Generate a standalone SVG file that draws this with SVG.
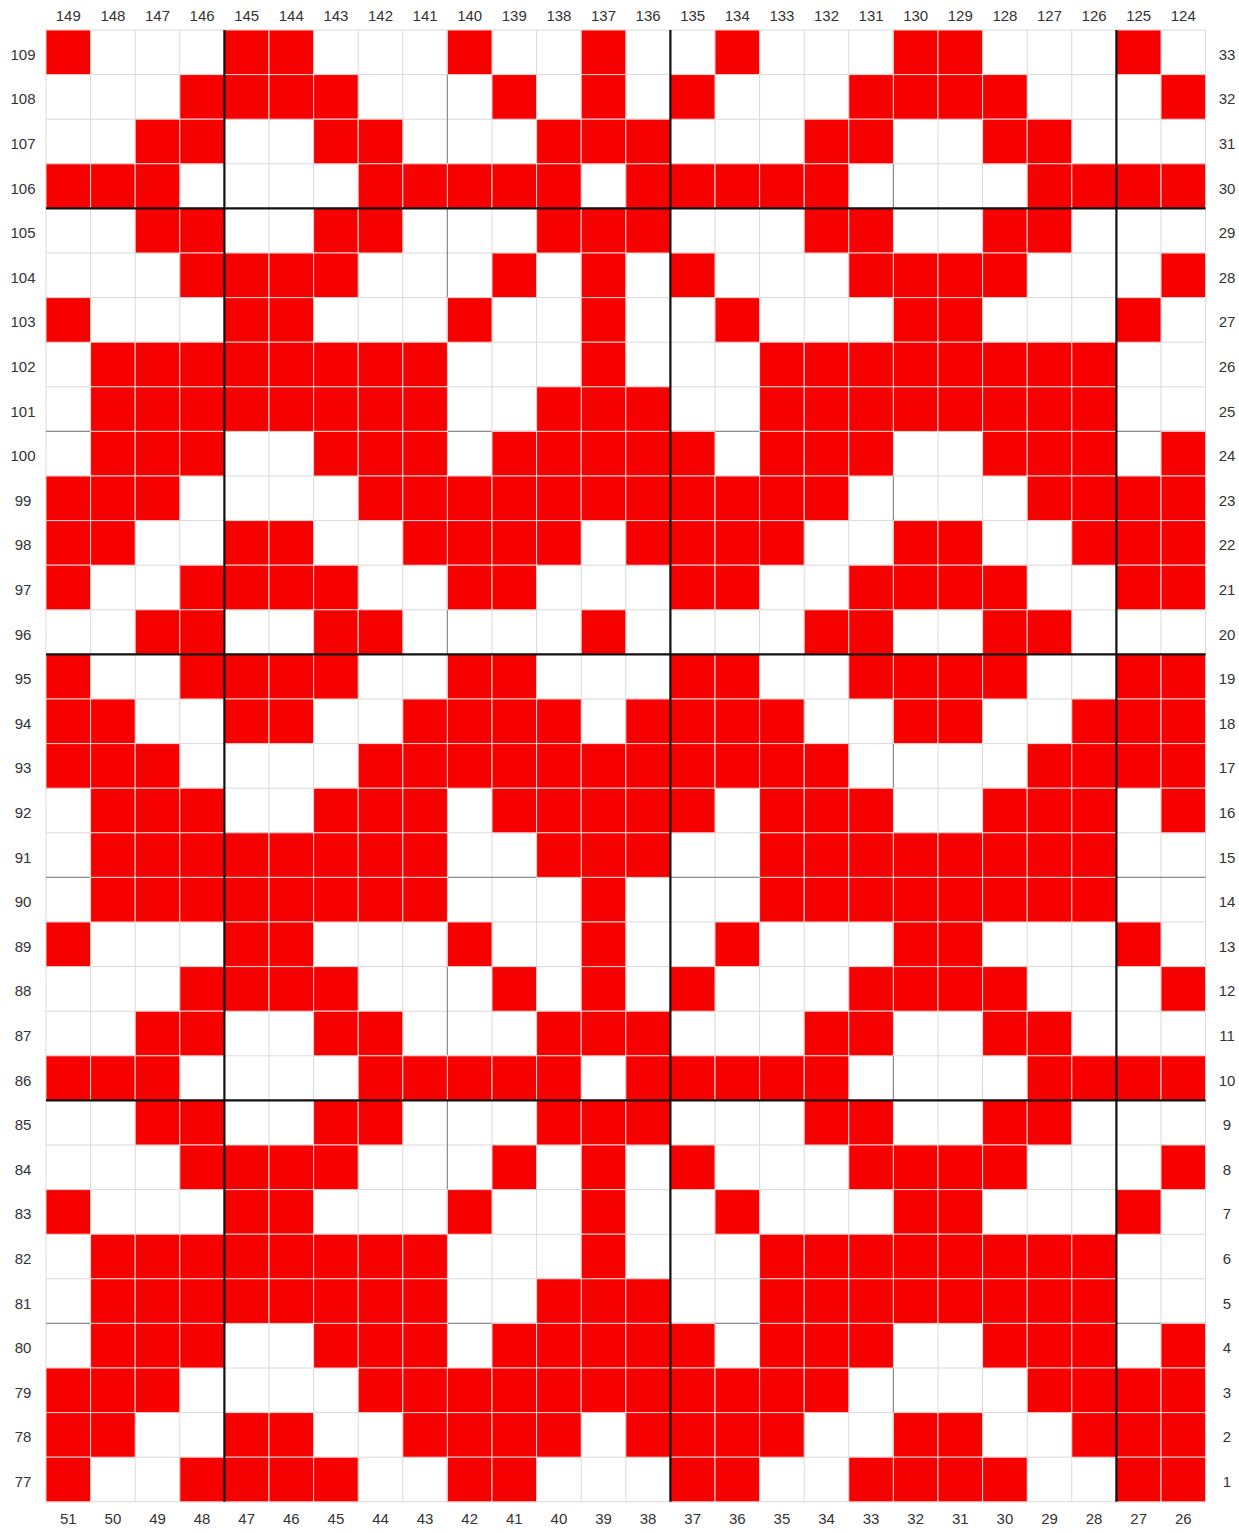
<svg xmlns="http://www.w3.org/2000/svg" xmlns:xlink="http://www.w3.org/1999/xlink" width="1239" height="1533" viewBox="0 0 1239 1533">
<style>
.r{fill:#f70000;stroke:#f3d2d2;stroke-width:1}
.thin{fill:none;stroke:#d9d9d9;stroke-width:1}
.mid{fill:none;stroke:#8c8c8c;stroke-width:1.2}
.thick{fill:none;stroke:#111;stroke-width:2.2}
text{font-family:"Liberation Sans",Arial,sans-serif;font-size:15px;fill:#333}
.lt text,.lb text,.ll text,.lr text{text-anchor:middle}
</style>
<defs>
<rect id="c" class="r" width="44.6" height="44.6"/>
<g id="pA"><use xlink:href="#c" x="46"/><use xlink:href="#c" x="224.4"/><use xlink:href="#c" x="269"/><use xlink:href="#c" x="447.4"/><use xlink:href="#c" x="581.2"/><use xlink:href="#c" x="715"/><use xlink:href="#c" x="893.4"/><use xlink:href="#c" x="938"/><use xlink:href="#c" x="1116.4"/></g>
<g id="pB"><use xlink:href="#c" x="179.8"/><use xlink:href="#c" x="224.4"/><use xlink:href="#c" x="269"/><use xlink:href="#c" x="313.6"/><use xlink:href="#c" x="492"/><use xlink:href="#c" x="581.2"/><use xlink:href="#c" x="670.4"/><use xlink:href="#c" x="848.8"/><use xlink:href="#c" x="893.4"/><use xlink:href="#c" x="938"/><use xlink:href="#c" x="982.6"/><use xlink:href="#c" x="1161"/></g>
<g id="pC"><use xlink:href="#c" x="135.2"/><use xlink:href="#c" x="179.8"/><use xlink:href="#c" x="313.6"/><use xlink:href="#c" x="358.2"/><use xlink:href="#c" x="536.6"/><use xlink:href="#c" x="581.2"/><use xlink:href="#c" x="625.8"/><use xlink:href="#c" x="804.2"/><use xlink:href="#c" x="848.8"/><use xlink:href="#c" x="982.6"/><use xlink:href="#c" x="1027.2"/></g>
<g id="pD"><use xlink:href="#c" x="46"/><use xlink:href="#c" x="90.6"/><use xlink:href="#c" x="135.2"/><use xlink:href="#c" x="358.2"/><use xlink:href="#c" x="402.8"/><use xlink:href="#c" x="447.4"/><use xlink:href="#c" x="492"/><use xlink:href="#c" x="536.6"/><use xlink:href="#c" x="625.8"/><use xlink:href="#c" x="670.4"/><use xlink:href="#c" x="715"/><use xlink:href="#c" x="759.6"/><use xlink:href="#c" x="804.2"/><use xlink:href="#c" x="1027.2"/><use xlink:href="#c" x="1071.8"/><use xlink:href="#c" x="1116.4"/><use xlink:href="#c" x="1161"/></g>
<g id="pE"><use xlink:href="#c" x="90.6"/><use xlink:href="#c" x="135.2"/><use xlink:href="#c" x="179.8"/><use xlink:href="#c" x="224.4"/><use xlink:href="#c" x="269"/><use xlink:href="#c" x="313.6"/><use xlink:href="#c" x="358.2"/><use xlink:href="#c" x="402.8"/><use xlink:href="#c" x="581.2"/><use xlink:href="#c" x="759.6"/><use xlink:href="#c" x="804.2"/><use xlink:href="#c" x="848.8"/><use xlink:href="#c" x="893.4"/><use xlink:href="#c" x="938"/><use xlink:href="#c" x="982.6"/><use xlink:href="#c" x="1027.2"/><use xlink:href="#c" x="1071.8"/></g>
<g id="pF"><use xlink:href="#pE"/><use xlink:href="#c" x="536.6"/><use xlink:href="#c" x="625.8"/></g>
<g id="pG"><use xlink:href="#c" x="90.6"/><use xlink:href="#c" x="135.2"/><use xlink:href="#c" x="179.8"/><use xlink:href="#c" x="313.6"/><use xlink:href="#c" x="358.2"/><use xlink:href="#c" x="402.8"/><use xlink:href="#c" x="492"/><use xlink:href="#c" x="536.6"/><use xlink:href="#c" x="581.2"/><use xlink:href="#c" x="625.8"/><use xlink:href="#c" x="670.4"/><use xlink:href="#c" x="759.6"/><use xlink:href="#c" x="804.2"/><use xlink:href="#c" x="848.8"/><use xlink:href="#c" x="982.6"/><use xlink:href="#c" x="1027.2"/><use xlink:href="#c" x="1071.8"/><use xlink:href="#c" x="1161"/></g>
<g id="pH"><use xlink:href="#c" x="46"/><use xlink:href="#c" x="90.6"/><use xlink:href="#c" x="135.2"/><use xlink:href="#c" x="358.2"/><use xlink:href="#c" x="402.8"/><use xlink:href="#c" x="447.4"/><use xlink:href="#c" x="492"/><use xlink:href="#c" x="536.6"/><use xlink:href="#c" x="581.2"/><use xlink:href="#c" x="625.8"/><use xlink:href="#c" x="670.4"/><use xlink:href="#c" x="715"/><use xlink:href="#c" x="759.6"/><use xlink:href="#c" x="804.2"/><use xlink:href="#c" x="1027.2"/><use xlink:href="#c" x="1071.8"/><use xlink:href="#c" x="1116.4"/><use xlink:href="#c" x="1161"/></g>
<g id="pI"><use xlink:href="#c" x="46"/><use xlink:href="#c" x="90.6"/><use xlink:href="#c" x="224.4"/><use xlink:href="#c" x="269"/><use xlink:href="#c" x="402.8"/><use xlink:href="#c" x="447.4"/><use xlink:href="#c" x="492"/><use xlink:href="#c" x="536.6"/><use xlink:href="#c" x="625.8"/><use xlink:href="#c" x="670.4"/><use xlink:href="#c" x="715"/><use xlink:href="#c" x="759.6"/><use xlink:href="#c" x="893.4"/><use xlink:href="#c" x="938"/><use xlink:href="#c" x="1071.8"/><use xlink:href="#c" x="1116.4"/><use xlink:href="#c" x="1161"/></g>
<g id="pJ"><use xlink:href="#c" x="46"/><use xlink:href="#c" x="179.8"/><use xlink:href="#c" x="224.4"/><use xlink:href="#c" x="269"/><use xlink:href="#c" x="313.6"/><use xlink:href="#c" x="447.4"/><use xlink:href="#c" x="492"/><use xlink:href="#c" x="670.4"/><use xlink:href="#c" x="715"/><use xlink:href="#c" x="848.8"/><use xlink:href="#c" x="893.4"/><use xlink:href="#c" x="938"/><use xlink:href="#c" x="982.6"/><use xlink:href="#c" x="1116.4"/><use xlink:href="#c" x="1161"/></g>
<g id="pK"><use xlink:href="#c" x="135.2"/><use xlink:href="#c" x="179.8"/><use xlink:href="#c" x="313.6"/><use xlink:href="#c" x="358.2"/><use xlink:href="#c" x="581.2"/><use xlink:href="#c" x="804.2"/><use xlink:href="#c" x="848.8"/><use xlink:href="#c" x="982.6"/><use xlink:href="#c" x="1027.2"/></g>
</defs>
<rect width="1239" height="1533" fill="#fff"/>
<g id="grid-thin">
<path class="thin" d="M46 30V1501.8M90.6 30V1501.8M135.2 30V1501.8M179.8 30V1501.8M224.4 30V1501.8M269 30V1501.8M313.6 30V1501.8M358.2 30V1501.8M402.8 30V1501.8M447.4 30V1501.8M492 30V1501.8M536.6 30V1501.8M581.2 30V1501.8M625.8 30V1501.8M670.4 30V1501.8M715 30V1501.8M759.6 30V1501.8M804.2 30V1501.8M848.8 30V1501.8M893.4 30V1501.8M938 30V1501.8M982.6 30V1501.8M1027.2 30V1501.8M1071.8 30V1501.8M1116.4 30V1501.8M1161 30V1501.8M1205.6 30V1501.8M46 30H1205.6M46 74.6H1205.6M46 119.2H1205.6M46 163.8H1205.6M46 208.4H1205.6M46 253H1205.6M46 297.6H1205.6M46 342.2H1205.6M46 386.8H1205.6M46 431.4H1205.6M46 476H1205.6M46 520.6H1205.6M46 565.2H1205.6M46 609.8H1205.6M46 654.4H1205.6M46 699H1205.6M46 743.6H1205.6M46 788.2H1205.6M46 832.8H1205.6M46 877.4H1205.6M46 922H1205.6M46 966.6H1205.6M46 1011.2H1205.6M46 1055.8H1205.6M46 1100.4H1205.6M46 1145H1205.6M46 1189.6H1205.6M46 1234.2H1205.6M46 1278.8H1205.6M46 1323.4H1205.6M46 1368H1205.6M46 1412.6H1205.6M46 1457.2H1205.6M46 1501.8H1205.6"/>
</g>
<g id="grid-mid">
<path class="mid" d="M447.4 30V1501.8M893.4 30V1501.8M46 431.4H1205.6M46 877.4H1205.6M46 1323.4H1205.6"/>
</g>
<g id="cells">
<use xlink:href="#pA" y="30"/>
<use xlink:href="#pB" y="74.6"/>
<use xlink:href="#pC" y="119.2"/>
<use xlink:href="#pD" y="163.8"/>
<use xlink:href="#pC" y="208.4"/>
<use xlink:href="#pB" y="253"/>
<use xlink:href="#pA" y="297.6"/>
<use xlink:href="#pE" y="342.2"/>
<use xlink:href="#pF" y="386.8"/>
<use xlink:href="#pG" y="431.4"/>
<use xlink:href="#pH" y="476"/>
<use xlink:href="#pI" y="520.6"/>
<use xlink:href="#pJ" y="565.2"/>
<use xlink:href="#pK" y="609.8"/>
<use xlink:href="#pJ" y="654.4"/>
<use xlink:href="#pI" y="699"/>
<use xlink:href="#pH" y="743.6"/>
<use xlink:href="#pG" y="788.2"/>
<use xlink:href="#pF" y="832.8"/>
<use xlink:href="#pE" y="877.4"/>
<use xlink:href="#pA" y="922"/>
<use xlink:href="#pB" y="966.6"/>
<use xlink:href="#pC" y="1011.2"/>
<use xlink:href="#pD" y="1055.8"/>
<use xlink:href="#pC" y="1100.4"/>
<use xlink:href="#pB" y="1145"/>
<use xlink:href="#pA" y="1189.6"/>
<use xlink:href="#pE" y="1234.2"/>
<use xlink:href="#pF" y="1278.8"/>
<use xlink:href="#pG" y="1323.4"/>
<use xlink:href="#pH" y="1368"/>
<use xlink:href="#pI" y="1412.6"/>
<use xlink:href="#pJ" y="1457.2"/>
</g>
<g id="grid-thick">
<path class="thick" d="M224.4 30V1501.8M670.4 30V1501.8M1116.4 30V1501.8M46 208.4H1205.6M46 654.4H1205.6M46 1100.4H1205.6"/>
</g>
<g id="labels-top" class="lt">
<text x="68.3" y="20.5">149</text><text x="112.9" y="20.5">148</text><text x="157.5" y="20.5">147</text><text x="202.1" y="20.5">146</text><text x="246.7" y="20.5">145</text><text x="291.3" y="20.5">144</text><text x="335.9" y="20.5">143</text><text x="380.5" y="20.5">142</text><text x="425.1" y="20.5">141</text><text x="469.7" y="20.5">140</text><text x="514.3" y="20.5">139</text><text x="558.9" y="20.5">138</text><text x="603.5" y="20.5">137</text><text x="648.1" y="20.5">136</text><text x="692.7" y="20.5">135</text><text x="737.3" y="20.5">134</text><text x="781.9" y="20.5">133</text><text x="826.5" y="20.5">132</text><text x="871.1" y="20.5">131</text><text x="915.7" y="20.5">130</text><text x="960.3" y="20.5">129</text><text x="1004.9" y="20.5">128</text><text x="1049.5" y="20.5">127</text><text x="1094.1" y="20.5">126</text><text x="1138.7" y="20.5">125</text><text x="1183.3" y="20.5">124</text>
</g>
<g id="labels-bottom" class="lb">
<text x="68.3" y="1524">51</text><text x="112.9" y="1524">50</text><text x="157.5" y="1524">49</text><text x="202.1" y="1524">48</text><text x="246.7" y="1524">47</text><text x="291.3" y="1524">46</text><text x="335.9" y="1524">45</text><text x="380.5" y="1524">44</text><text x="425.1" y="1524">43</text><text x="469.7" y="1524">42</text><text x="514.3" y="1524">41</text><text x="558.9" y="1524">40</text><text x="603.5" y="1524">39</text><text x="648.1" y="1524">38</text><text x="692.7" y="1524">37</text><text x="737.3" y="1524">36</text><text x="781.9" y="1524">35</text><text x="826.5" y="1524">34</text><text x="871.1" y="1524">33</text><text x="915.7" y="1524">32</text><text x="960.3" y="1524">31</text><text x="1004.9" y="1524">30</text><text x="1049.5" y="1524">29</text><text x="1094.1" y="1524">28</text><text x="1138.7" y="1524">27</text><text x="1183.3" y="1524">26</text>
</g>
<g id="labels-left" class="ll">
<text x="23" y="59.8">109</text><text x="23" y="104.4">108</text><text x="23" y="149">107</text><text x="23" y="193.6">106</text><text x="23" y="238.2">105</text><text x="23" y="282.8">104</text><text x="23" y="327.4">103</text><text x="23" y="372">102</text><text x="23" y="416.6">101</text><text x="23" y="461.2">100</text><text x="23" y="505.8">99</text><text x="23" y="550.4">98</text><text x="23" y="595">97</text><text x="23" y="639.6">96</text><text x="23" y="684.2">95</text><text x="23" y="728.8">94</text><text x="23" y="773.4">93</text><text x="23" y="818">92</text><text x="23" y="862.6">91</text><text x="23" y="907.2">90</text><text x="23" y="951.8">89</text><text x="23" y="996.4">88</text><text x="23" y="1041">87</text><text x="23" y="1085.6">86</text><text x="23" y="1130.2">85</text><text x="23" y="1174.8">84</text><text x="23" y="1219.4">83</text><text x="23" y="1264">82</text><text x="23" y="1308.6">81</text><text x="23" y="1353.2">80</text><text x="23" y="1397.8">79</text><text x="23" y="1442.4">78</text><text x="23" y="1487">77</text>
</g>
<g id="labels-right" class="lr">
<text x="1227" y="59.8">33</text><text x="1227" y="104.4">32</text><text x="1227" y="149">31</text><text x="1227" y="193.6">30</text><text x="1227" y="238.2">29</text><text x="1227" y="282.8">28</text><text x="1227" y="327.4">27</text><text x="1227" y="372">26</text><text x="1227" y="416.6">25</text><text x="1227" y="461.2">24</text><text x="1227" y="505.8">23</text><text x="1227" y="550.4">22</text><text x="1227" y="595">21</text><text x="1227" y="639.6">20</text><text x="1227" y="684.2">19</text><text x="1227" y="728.8">18</text><text x="1227" y="773.4">17</text><text x="1227" y="818">16</text><text x="1227" y="862.6">15</text><text x="1227" y="907.2">14</text><text x="1227" y="951.8">13</text><text x="1227" y="996.4">12</text><text x="1227" y="1041">11</text><text x="1227" y="1085.6">10</text><text x="1227" y="1130.2">9</text><text x="1227" y="1174.8">8</text><text x="1227" y="1219.4">7</text><text x="1227" y="1264">6</text><text x="1227" y="1308.6">5</text><text x="1227" y="1353.2">4</text><text x="1227" y="1397.8">3</text><text x="1227" y="1442.4">2</text><text x="1227" y="1487">1</text>
</g>
</svg>
